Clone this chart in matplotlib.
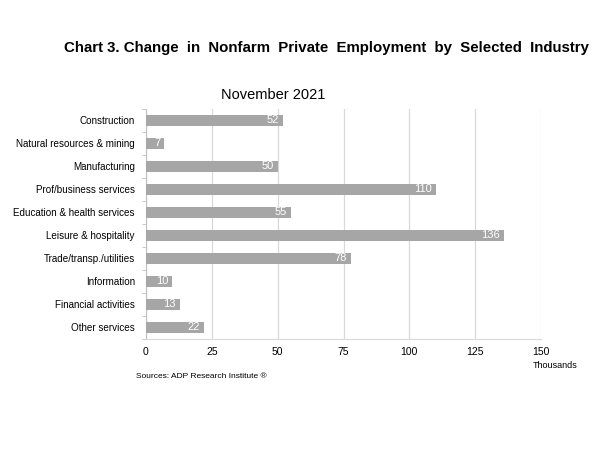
import numpy as np
import matplotlib.pyplot as plt

plt.rcParams['font.family'] = ['Liberation Sans', 'DejaVu Sans']

industries = ["Construction", "Natural resources & mining", "Manufacturing",
              "Prof/business services", "Education & health services",
              "Leisure & hospitality", "Trade/transp./utilities", "Information",
              "Financial activities", "Other services"]
change = [52, 7, 50, 110, 55, 136, 78, 10, 13, 22]
xticks = [0, 25, 50, 75, 100, 125, 150]

fig = plt.figure(figsize=(6, 4.5), dpi=100)
ax = fig.add_axes([0.2433, 0.2467, 0.6584, 0.5111])

y = np.arange(len(industries))
ax.barh(y, change, height=0.5, color="#a6a6a6", zorder=3)
for yi, v in zip(y, change):
    ax.annotate(str(v), (v, yi), xytext=(-3, 0), textcoords="offset points",
                ha="right", va="center", color="white", fontsize=8, zorder=4)

ax.set_ylim(len(industries) - 0.5, -0.5)
ax.set_xlim(0, 150)
ax.set_xticks(xticks)
ax.set_yticks(y)
ax.set_yticklabels(industries, fontsize=7.1)
ax.set_yticks(np.arange(-0.5, len(industries), 1), minor=True)
ax.tick_params(axis="y", which="major", length=0, pad=8)
ax.tick_params(axis="y", which="minor", length=3, color="#bfbfbf", direction="out")
ax.tick_params(axis="x", length=0, labelsize=7.5, pad=6)

ax.grid(axis="x", color="#d9d9d9", linewidth=0.9, zorder=0)
for s in ["top", "right"]:
    ax.spines[s].set_visible(False)
ax.spines["left"].set_color("#bfbfbf")
ax.spines["bottom"].set_color("#d9d9d9")

fig.text(0.545, 0.893, "Chart 3. Change  in  Nonfarm  Private  Employment  by  Selected  Industry",
         ha="center", va="center", fontsize=10.8, fontweight="bold")
fig.text(0.455, 0.789, "November 2021", ha="center", va="center", fontsize=10.5)
fig.text(0.925, 0.187, "Thousands", ha="center", va="center", fontsize=6.5)
fig.text(0.227, 0.163, "Sources: ADP Research Institute \u00ae", ha="left", va="center", fontsize=6)

fig.savefig("out.png")
